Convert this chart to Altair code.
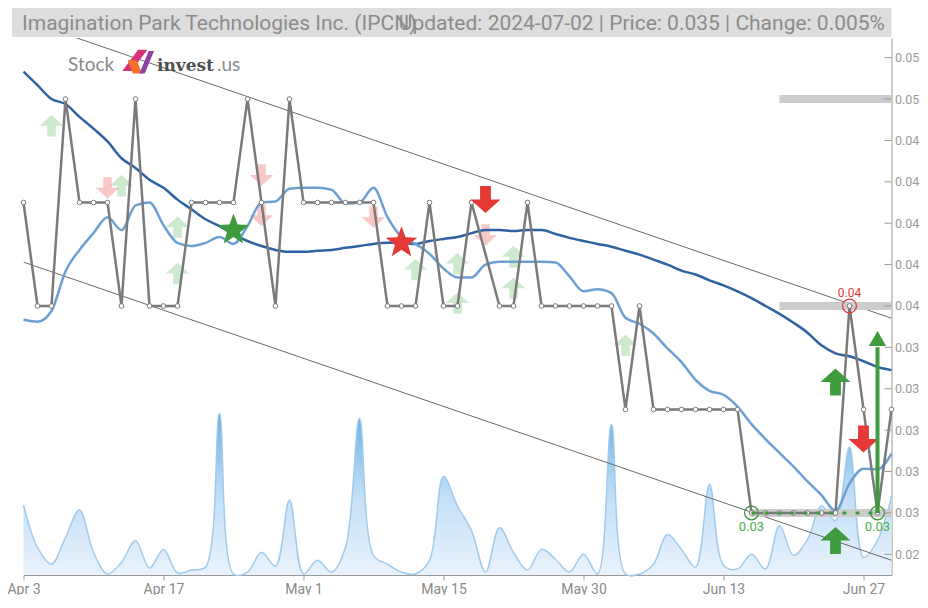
import json
import altair as alt
import pandas as pd

# ---------------- data ----------------
tick_idx = [0, 10, 20, 30, 40, 50, 60]
tick_labels = ["Apr 3", "Apr 17", "May 1", "May 15", "May 30", "Jun 13", "Jun 27"]
y_ticks = [0.028, 0.030, 0.032, 0.034, 0.036, 0.038, 0.040, 0.042, 0.044, 0.046, 0.048, 0.050, 0.052]

price = [0.045, 0.040, 0.040, 0.050, 0.045, 0.045, 0.045, 0.040, 0.050, 0.040,
         0.040, 0.040, 0.045, 0.045, 0.045, 0.045, 0.050, 0.045, 0.040, 0.050,
         0.045, 0.045, 0.045, 0.045, 0.045, 0.045, 0.040, 0.040, 0.040, 0.045,
         0.040, 0.040, 0.045, None, 0.040, 0.040, 0.045, 0.040, 0.040, 0.040,
         0.040, 0.040, 0.040, 0.035, 0.040, 0.035, 0.035, 0.035, 0.035, 0.035,
         0.035, 0.035, 0.030, 0.030, 0.030, 0.030, 0.030, 0.030, 0.030, 0.040,
         0.035, 0.030, 0.035]

ma_long = [0.05133, 0.05067, 0.05000, 0.04976, 0.04914, 0.04857, 0.04795, 0.04714, 0.04667, 0.04610,
           0.04571, 0.04514, 0.04467, 0.04419, 0.04386, 0.04348, 0.04314, 0.04290, 0.04271, 0.04262,
           0.04262, 0.04267, 0.04271, 0.04281, 0.04290, 0.04300, 0.04305, 0.04305, 0.04300, 0.04314,
           0.04324, 0.04333, 0.04352, 0.04367, 0.04367, 0.04362, 0.04367, 0.04367, 0.04348, 0.04329,
           0.04314, 0.04300, 0.04286, 0.04267, 0.04248, 0.04224, 0.04200, 0.04171, 0.04152, 0.04124,
           0.04100, 0.04071, 0.04038, 0.04000, 0.03962, 0.03919, 0.03871, 0.03810, 0.03771, 0.03757,
           0.03733, 0.03705, 0.03690]

ma_short = [0.03933, 0.03924, 0.03976, 0.04167, 0.04271, 0.04352, 0.04429, 0.04367, 0.04486, 0.04500,
            0.04390, 0.04305, 0.04290, 0.04305, 0.04333, 0.04300, 0.04386, 0.04500, 0.04505, 0.04567,
            0.04571, 0.04571, 0.04562, 0.04495, 0.04500, 0.04571, 0.04429, 0.04333, 0.04300, 0.04252,
            0.04181, 0.04138, 0.04138, 0.04200, 0.04214, 0.04214, 0.04214, 0.04214, 0.04210, 0.04143,
            0.04071, 0.04081, 0.04062, 0.03943, 0.03914, 0.03867, 0.03795, 0.03729, 0.03643, 0.03590,
            0.03571, 0.03514, 0.03429, 0.03357, 0.03290, 0.03224, 0.03152, 0.03086, 0.03010, 0.03143,
            0.03214, 0.03210, 0.03286]

# volume (thousand shares, relative)
volume = [71, 28, 11, 38, 66, 23, 1, 13, 35, 7,
          26, 2, 5, 8, 164, 1, 3, 23, 9, 76,
          1, 15, 3, 28, 159, 20, 11, 3, 1, 15,
          100, 70, 45, 3, 48, 23, 5, 26, 16, 3,
          21, 1, 153, 1, 1, 11, 41, 26, 8, 92,
          10, 6, 21, 6, 50, 20, 36, 70, 55, 130,
          18, 35, 80]
volume_max = 545  # volume that would fill the full plot height

channel_idx = [0, 62]
channel_upper = [0.05384, 0.03941]
channel_lower = [0.04212, 0.02771]

faded_up_idx = [2, 7, 11, 11, 28, 31, 31, 35, 35, 43]
faded_up_val = [0.04871, 0.04581, 0.04381, 0.04157, 0.04176, 0.04205, 0.04014, 0.04238, 0.04086, 0.03810]
faded_down_idx = [6, 17, 17, 25, 33]
faded_down_val = [0.04571, 0.04633, 0.04438, 0.04429, 0.04343]
star_buy_idx, star_buy_val = [15], [0.04367]
star_sell_idx, star_sell_val = [27], [0.04305]
down_idx = [33, 60]
down_val = [0.04514, 0.03357]
up_idx = [58, 58]
up_val = [0.03633, 0.02867]
long_arrow_idx = [61]
long_arrow_from = [0.030]
long_arrow_to = [0.0380]
long_arrow_head = [0.03843]

level_val = [0.050, 0.040, 0.030]
level_start = [54, 54, 52]
level_end = [62, 62, 62]
support_start, support_end, support_val = [52], [61], [0.030]

res_idx, res_val, res_text = [59], [0.040], ["0.04"]
sup_idx, sup_val, sup_text = [52, 61], [0.030, 0.030], ["0.03", "0.03"]

company = "Imagination Park Technologies Inc. (IPCN)"
updated = "Updated: 2024-07-02 | Price: 0.035 | Change: 0.005%"

# ---------------- frames ----------------
n = len(price)
Y_LO, Y_HI = 0.02700, 0.05295
df = pd.DataFrame({"i": list(range(n)), "ma_long": ma_long, "ma_short": ma_short, "vol": volume})
df_price = pd.DataFrame({"i": list(range(n)), "p": price}).dropna()
df_chan = pd.DataFrame({"i": channel_idx, "up": channel_upper, "lo": channel_lower})
df_fu = pd.DataFrame({"i": faded_up_idx, "v": faded_up_val})
df_fd = pd.DataFrame({"i": faded_down_idx, "v": faded_down_val})
df_sb = pd.DataFrame({"i": star_buy_idx, "v": star_buy_val})
df_ss = pd.DataFrame({"i": star_sell_idx, "v": star_sell_val})
df_down = pd.DataFrame({"i": down_idx, "v": down_val})
df_up = pd.DataFrame({"i": up_idx, "v": up_val})
df_long = pd.DataFrame({"i": long_arrow_idx, "a": long_arrow_from, "b": long_arrow_to, "h": long_arrow_head})
df_lvl = pd.DataFrame({"s": level_start, "e": level_end, "v": level_val})
df_sup = pd.DataFrame({"s": support_start, "e": support_end, "v": support_val})
df_res = pd.DataFrame({"i": res_idx, "v": res_val, "t": res_text})
df_sp = pd.DataFrame({"i": sup_idx, "v": sup_val, "t": sup_text})
df_yt = pd.DataFrame({"t": y_ticks})
df_txt = pd.DataFrame({"a": [company], "b": [updated]})

W, H = 868, 537
PAD_L, PAD_T, PAD_B = 15.5, 30, 20
PAD_R = 912 - PAD_L - W
FONT = "Roboto, Liberation Sans, Arial, sans-serif"

xs = alt.Scale(domain=[0, 62], nice=False, zero=False)
ys = alt.Scale(domain=[Y_LO, Y_HI], nice=False, zero=False)

x_axis = alt.Axis(
    orient="bottom",
    values=tick_idx,
    labelExpr=f"{json.dumps(tick_labels)}[indexof({json.dumps(tick_idx)}, datum.value)]",
    grid=False, domainColor="#9a9a9a", tickColor="#9a9a9a", tickSize=5,
    labelColor="#8a8a8a", labelFontSize=14, labelFont=FONT, labelPadding=2,
    labelOverlap=False, labelFlush=False, title=None,
)
y_axis = alt.Axis(
    orient="right", values=y_ticks, labelExpr="substring(format(datum.value, '.3f'), 0, 4)",
    grid=False, ticks=False, domainColor="#9a9a9a", labelColor="#9a9a9a",
    labelFontSize=12.5, labelFont=FONT, labelPadding=3, title=None,
)


def X(f="i"):
    return alt.X(f"{f}:Q", scale=xs, axis=x_axis, title=None)


def Y(f):
    return alt.Y(f"{f}:Q", scale=ys, axis=y_axis, title=None)


UP = "M0,-0.9L1,0L0.36,0L0.36,0.9L-0.36,0.9L-0.36,0L-1,0Z"
DOWN = "M0,0.9L1,0L0.36,0L0.36,-0.9L-0.36,-0.9L-0.36,0L-1,0Z"
STAR = ("M0,-1L0.247,-0.34L0.951,-0.309L0.399,0.13L0.588,0.809L0,0.42"
        "L-0.588,0.809L-0.399,0.13L-0.951,-0.309L-0.247,-0.34Z")

grad = alt.Gradient(
    gradient="linear",
    stops=[alt.GradientStop(color="#eaf3fc", offset=0),
           alt.GradientStop(color="#c3dff5", offset=0.5),
           alt.GradientStop(color="#6aaee2", offset=1)],
    x1=1, x2=1, y1=1, y2=0,
)

vol = alt.Chart(df).transform_calculate(
    vy=f"{Y_LO} + datum.vol * {(Y_HI - Y_LO) / volume_max}",
    vb=f"{Y_LO}",
).mark_area(
    interpolate="catmull-rom", color=grad, opacity=1,
    line={"color": "#9fcbee", "strokeWidth": 1.5},
).encode(x=X(), y=Y("vy"), y2=alt.Y2("vb:Q"))

chan_up = alt.Chart(df_chan).mark_line(color="#6a6a6a", strokeWidth=1, clip=True).encode(x=X(), y=Y("up"))
chan_lo = alt.Chart(df_chan).mark_line(color="#6a6a6a", strokeWidth=1, clip=True).encode(x=X(), y=Y("lo"))

lvl = alt.Chart(df_lvl).mark_rule(color="#cccccc", strokeWidth=8).encode(
    x=X("s"), x2=alt.X2("e:Q"), y=Y("v"))

faded_up = alt.Chart(df_fu).mark_point(shape=UP, filled=True, color="#4caf50", opacity=0.28,
                                       size=560, strokeWidth=0).encode(x=X(), y=Y("v"))
faded_dn = alt.Chart(df_fd).mark_point(shape=DOWN, filled=True, color="#e53935", opacity=0.28,
                                       size=560, strokeWidth=0).encode(x=X(), y=Y("v"))

ma_l = alt.Chart(df).mark_line(color="#2f62a0", strokeWidth=2.5, interpolate="monotone").encode(x=X(), y=Y("ma_long"))
ma_s = alt.Chart(df).mark_line(color="#6c9fd2", strokeWidth=2.5, interpolate="monotone").encode(x=X(), y=Y("ma_short"))

pline = alt.Chart(df_price).mark_line(color="#7a7a7a", strokeWidth=2.5).encode(x=X(), y=Y("p"))
ppts = alt.Chart(df_price).mark_point(shape="circle", filled=True, fill="white", stroke="#7a7a7a",
                                      strokeWidth=1, size=22, opacity=1).encode(x=X(), y=Y("p"))

sup_dash = alt.Chart(df_sup).mark_rule(color="#3f9c3f", strokeWidth=3, strokeDash=[4, 9]).encode(
    x=X("s"), x2=alt.X2("e:Q"), y=Y("v"))

star_b = alt.Chart(df_sb).mark_point(shape=STAR, filled=True, color="#3e9b3e", size=1100, opacity=1,
                                     strokeWidth=0).encode(x=X(), y=Y("v"))
star_s = alt.Chart(df_ss).mark_point(shape=STAR, filled=True, color="#e53935", size=1100, opacity=1,
                                     strokeWidth=0).encode(x=X(), y=Y("v"))

solid_dn = alt.Chart(df_down).mark_point(shape=DOWN, filled=True, color="#e53935", opacity=1,
                                         size=900, strokeWidth=0).encode(x=X(), y=Y("v"))
solid_up = alt.Chart(df_up).mark_point(shape=UP, filled=True, color="#3e9b3e", opacity=1,
                                       size=900, strokeWidth=0).encode(x=X(), y=Y("v"))

long_shaft = alt.Chart(df_long).mark_rule(color="#3e9b3e", strokeWidth=4).encode(x=X(), y=Y("a"), y2=alt.Y2("b:Q"))
long_head = alt.Chart(df_long).mark_point(shape="triangle-up", filled=True, color="#3e9b3e", opacity=1,
                                          size=300, strokeWidth=0).encode(x=X(), y=Y("h"))

res_c = alt.Chart(df_res).mark_point(shape="circle", filled=False, color="#e53935", size=190,
                                     strokeWidth=1.3, opacity=1).encode(x=X(), y=Y("v"))
res_t = alt.Chart(df_res).mark_text(color="#e53935", fontSize=12, dy=-13, font=FONT).encode(
    x=X(), y=Y("v"), text="t:N")
sup_c = alt.Chart(df_sp).mark_point(shape="circle", filled=False, color="#3e9b3e", size=190,
                                    strokeWidth=1.3, opacity=1).encode(x=X(), y=Y("v"))
sup_t = alt.Chart(df_sp).mark_text(color="#4caf50", fontSize=13, dy=14, font=FONT).encode(
    x=X(), y=Y("v"), text="t:N")

yticks = alt.Chart(df_yt).mark_rule(color="#9a9a9a", strokeWidth=1).encode(
    y=Y("t"), x=alt.value(W - 7), x2=alt.value(W))

# title bar & logo
title_bg = alt.Chart(df_txt).mark_rect(color="#dddddd").encode(
    x=alt.value(-11.5), x2=alt.value(W), y=alt.value(-30), y2=alt.value(-1))
title_a = alt.Chart(df_txt).mark_text(align="left", baseline="alphabetic", fontSize=21, font=FONT,
                                      color="#8c8c8c").encode(x=alt.value(-1.5), y=alt.value(-8), text="a:N")
title_b = alt.Chart(df_txt).mark_text(align="right", baseline="alphabetic", fontSize=21, font=FONT,
                                      color="#8c8c8c").encode(x=alt.value(W - 6.5), y=alt.value(-8), text="b:N")

logo_stock = alt.Chart(df_txt).mark_text(text="Stock", align="left", baseline="alphabetic", fontSize=19,
                                         font="Lato, Liberation Sans, sans-serif", color="#8a8a8a").encode(
    x=alt.value(44.5), y=alt.value(33))
logo_inv = alt.Chart(df_txt).mark_text(text="invest", align="left", baseline="alphabetic", fontSize=17,
                                       fontWeight="bold", font="DejaVu Serif, serif", color="#4f4f4f").encode(
    x=alt.value(133.5), y=alt.value(33))
logo_us = alt.Chart(df_txt).mark_text(text=".us", align="left", baseline="alphabetic", fontSize=19,
                                      font="Lato, Liberation Sans, sans-serif", color="#8a8a8a").encode(
    x=alt.value(193.5), y=alt.value(33))
logo_i1 = alt.Chart(df_txt).mark_point(shape="M-1,0.6L0.2,-1L0.9,-1L-0.3,0.6Z", filled=True, color="#d8337a",
                                       opacity=1, size=700, strokeWidth=0).encode(x=alt.value(112), y=alt.value(25))
logo_i2 = alt.Chart(df_txt).mark_point(shape="M-0.6,-0.2L0.1,-0.2L0.5,0.8L-0.2,0.8Z", filled=True, color="#f2702a",
                                       opacity=1, size=700, strokeWidth=0).encode(x=alt.value(112), y=alt.value(25))
logo_i3 = alt.Chart(df_txt).mark_point(shape="M0.3,0.8L1,-0.9L1.4,-0.9L0.7,0.8Z", filled=True, color="#8e3fa0",
                                       opacity=1, size=700, strokeWidth=0).encode(x=alt.value(112), y=alt.value(25))

chart = alt.layer(
    vol, chan_up, chan_lo, lvl, faded_up, faded_dn, ma_l, ma_s, pline, ppts, sup_dash,
    star_b, star_s, solid_dn, solid_up, long_shaft, long_head, res_c, res_t, sup_c, sup_t, yticks,
    title_bg, title_a, title_b, logo_stock, logo_inv, logo_us, logo_i1, logo_i2, logo_i3,
).properties(
    width=W, height=H,
    padding={"left": PAD_L, "top": PAD_T, "right": PAD_R, "bottom": PAD_B},
    autosize=alt.AutoSizeParams(type="none"),
).configure_view(stroke=None)

chart.save("out.html", embed_options={"renderer": "svg", "actions": False})
